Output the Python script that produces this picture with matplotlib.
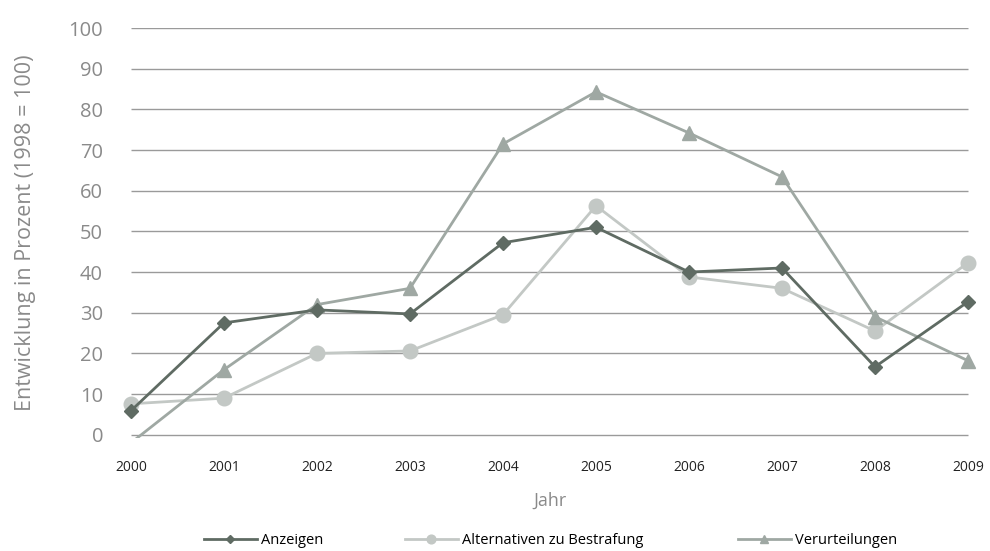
import numpy as np
import matplotlib
matplotlib.use("Agg")
import matplotlib.pyplot as plt

plt.rcParams['font.family'] = ['Open Sans', 'DejaVu Sans']

years = [2000, 2001, 2002, 2003, 2004, 2005, 2006, 2007, 2008, 2009]
anzeigen = [5.9, 27.5, 30.7, 29.7, 47.2, 51.0, 40.0, 41.0, 16.7, 32.7]
alternativen = [7.6, 9.0, 20.0, 20.6, 29.5, 56.3, 38.8, 36.0, 25.5, 42.3]
verurteilungen = [-2.0, 16.0, 32.0, 36.0, 71.5, 84.3, 74.2, 63.4, 29.0, 18.2]
yticks = [0, 10, 20, 30, 40, 50, 60, 70, 80, 90, 100]

c_anz = '#5f6b63'
c_alt = '#c3c8c5'
c_ver = '#9fa8a3'

fig = plt.figure(figsize=(9.9, 5.51), dpi=100)
ax = fig.add_axes([117/990, 1-438/551, (982-117)/990, (438-28)/551])

# gridlines only between first and last year
ax.hlines(yticks, years[0], years[-1], colors='#9a9a9a', lw=1, zorder=1)

l1, = ax.plot(years, anzeigen, color=c_anz, lw=2, marker='D', ms=7.5, zorder=3, label='Anzeigen')
l2, = ax.plot(years, alternativen, color=c_alt, lw=2, marker='o', ms=10.5, zorder=2,
              label='Alternativen zu Bestrafung')
l3, = ax.plot(years, verurteilungen, color=c_ver, lw=2, marker='^', ms=10.5, zorder=2,
              markevery=list(range(1, len(years))), label='Verurteilungen')

ax.set_xlim(1999.85, 2009.15)
ax.set_ylim(-0.8, 100)
for s in ax.spines.values():
    s.set_visible(False)
ax.set_yticks(yticks)
ax.set_xticks(years)
ax.tick_params(axis='y', length=0, pad=10, labelsize=14.5, labelcolor='#8a8a8a')
ax.tick_params(axis='x', length=0, pad=16, labelsize=10, labelcolor='#222222')

ax.set_ylabel('Entwicklung in Prozent (1998 = 100)', fontsize=15.5, color='#8a8a8a')
ax.yaxis.set_label_coords(-0.094, 0.5)
ax.set_xlabel('Jahr', fontsize=13, color='#8a8a8a', labelpad=12)

# one legend per entry so each sits where it does in the original
for h, xpos in [(l1, 204), (l2, 405), (l3, 738)]:
    fig.legend(handles=[h], loc='center left', bbox_to_anchor=(xpos/990, 1-541/551),
               frameon=False, fontsize=10.5, handlelength=3.6, handletextpad=0.3,
               borderpad=0, borderaxespad=0, markerscale=0.6)

fig.savefig('out.png', dpi=100)
